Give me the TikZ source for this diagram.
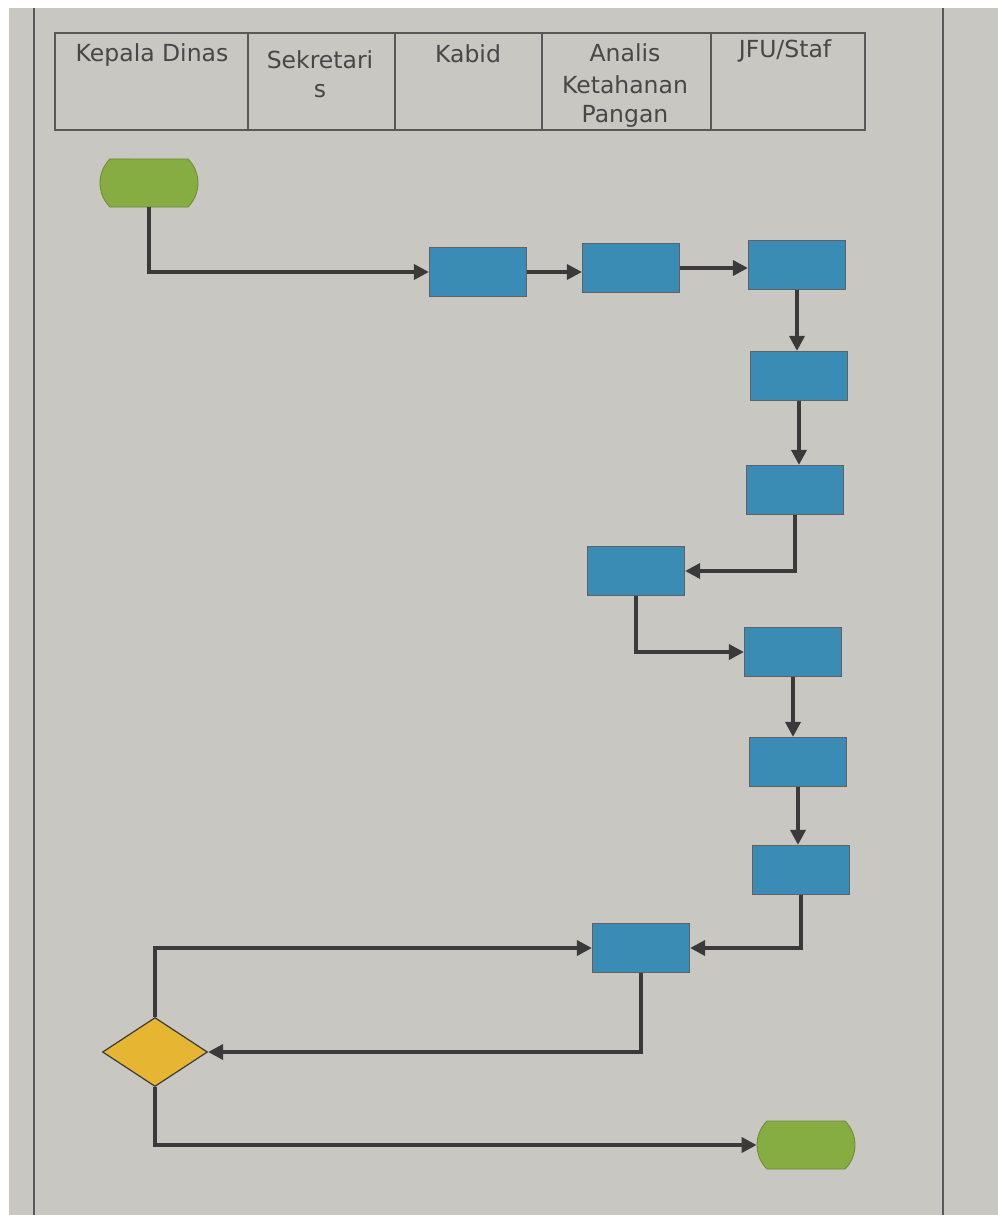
\documentclass[tikz,border=0pt]{standalone}
\usepackage{fontspec}
\setmainfont{DejaVu Sans}
\usetikzlibrary{arrows.meta,shapes.geometric,shapes.misc}
\definecolor{paper}{HTML}{C9C7C2}
\definecolor{boxblue}{HTML}{3B8CB4}
\definecolor{termgreen}{HTML}{86AD42}
\definecolor{decyellow}{HTML}{E6B632}
\definecolor{ink}{HTML}{3A3A3A}
\definecolor{txt}{HTML}{474747}
\begin{document}
\begin{tikzpicture}[x=1pt,y=-1pt,
  frame/.style={draw=ink!85,line width=1.8pt},
  proc/.style={rectangle,draw=ink!80,line width=1.2pt,fill=boxblue,minimum width=97pt,minimum height=49pt,inner sep=0pt},
  term/.style={rounded rectangle,rounded rectangle arc length=90,draw=termgreen!80!black,line width=0.8pt,fill=termgreen,minimum width=98pt,minimum height=48pt,inner sep=0pt},
  dec/.style={diamond,draw=ink,line width=1.2pt,fill=decyellow,minimum width=105pt,minimum height=69pt,inner sep=0pt},
  conn/.style={draw=ink,line width=3.6pt,-{Triangle[length=15pt,width=15pt]}},
  head/.style={text=txt,font=\fontsize{23.5}{30}\selectfont,anchor=base,align=center,inner sep=0pt}]
\useasboundingbox (0,0) rectangle (998,1215);
\fill[white] (0,0) rectangle (998,1215);
\fill[paper] (9,8) rectangle (998,1215);
% page frame
\draw[frame] (34,8) -- (34,1215);
\draw[frame] (943,8) -- (943,1215);
% header table
\draw[frame] (55,33) rectangle (865,130);
\foreach \x in {248,395,542,711} \draw[frame] (\x,33) -- (\x,130);
\node[head] (h1) at (152,62) {Kepala Dinas};
\node[head] (h2a) at (320,68) {Sekretari};
\node[head] (h2b) at (320,97) {s};
\node[head] (h3) at (468,63) {Kabid};
\node[head] (h4a) at (625,62) {Analis};
\node[head] (h4b) at (625,93) {Ketahanan};
\node[head] (h4c) at (625,122) {Pangan};
\node[head] (h5) at (785,58) {JFU/Staf};
% flow nodes
\node[term] (start) at (149,183) {};
\node[proc] (b1) at (478,272) {};
\node[proc] (b2) at (631,268) {};
\node[proc] (b3) at (797,265) {};
\node[proc] (b4) at (799,376) {};
\node[proc] (b5) at (795,490) {};
\node[proc] (b6) at (636,571) {};
\node[proc] (b7) at (793,652) {};
\node[proc] (b8) at (798,762) {};
\node[proc] (b9) at (801,870) {};
\node[proc] (b10) at (641,948) {};
\node[dec] (dia) at (155,1052) {};
\node[term] (end) at (806,1145) {};
% connectors
\draw[conn] (start.south) |- (b1.west);
\draw[conn] (b1.east) -- (b1.east -| b2.west);
\draw[conn] (b2.east) -- (b2.east -| b3.west);
\draw[conn] (b3.south) -- (b3.south |- b4.north);
\draw[conn] (b4.south) -- (b4.south |- b5.north);
\draw[conn] (b5.south) |- (b6.east);
\draw[conn] (b6.south) |- (b7.west);
\draw[conn] (b7.south) -- (b7.south |- b8.north);
\draw[conn] (b8.south) -- (b8.south |- b9.north);
\draw[conn] (b9.south) |- (b10.east);
\draw[conn] (b10.south) |- (dia.east);
\draw[conn] (dia.north) |- (b10.west);
\draw[conn] (dia.south) |- (end.west);
\end{tikzpicture}
\end{document}
